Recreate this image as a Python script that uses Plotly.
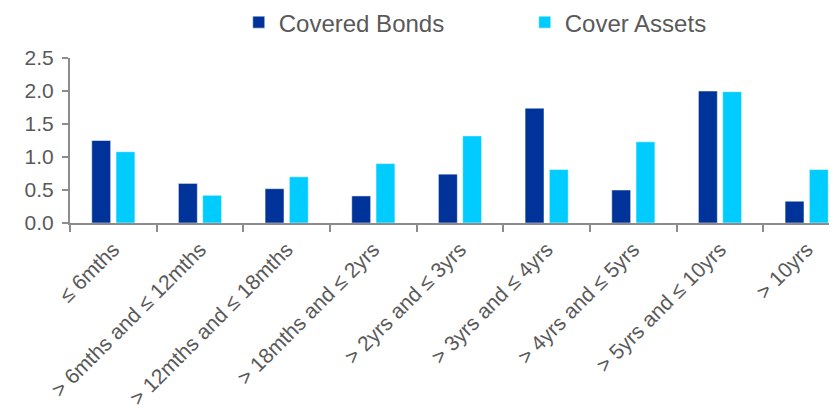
import plotly.graph_objects as go

categories = ["≤ 6mths", "> 6mths and ≤ 12mths", "> 12mths and ≤ 18mths",
              "> 18mths and ≤ 2yrs", "> 2yrs and ≤ 3yrs", "> 3yrs and ≤ 4yrs",
              "> 4yrs and ≤ 5yrs", "> 5yrs and ≤ 10yrs", "> 10yrs"]
covered_bonds = [1.25, 0.60, 0.52, 0.41, 0.74, 1.74, 0.50, 2.00, 0.33]
cover_assets = [1.08, 0.42, 0.70, 0.90, 1.32, 0.81, 1.23, 1.99, 0.81]
y_ticks = [0.0, 0.5, 1.0, 1.5, 2.0, 2.5]

FONT = "Liberation Sans"
TXT = "#595959"
AX = "#8c8c8c"

fig = go.Figure()
fig.add_trace(go.Bar(name="Covered Bonds", x=categories, y=covered_bonds,
                     marker=dict(color="#003399", line=dict(color="rgba(255,255,255,0.5)", width=1))))
fig.add_trace(go.Bar(name="Cover Assets", x=categories, y=cover_assets,
                     marker=dict(color="#00ccff", line=dict(color="rgba(255,255,255,0.5)", width=1))))

# the page body adds an 8px offset, so the figure is 8px smaller and margins shifted
fig.update_layout(
    width=829, height=404,
    margin=dict(l=62, r=0, t=50, b=189, autoexpand=False),
    paper_bgcolor="white", plot_bgcolor="white",
    barmode="group", bargap=0.44, bargroupgap=0.22,
    font=dict(family=FONT, color=TXT, size=20),
    legend=dict(orientation="h", x=0.22, xanchor="left", y=1.215, yanchor="middle",
                font=dict(size=24, color=TXT), entrywidth=241,
                itemwidth=30, traceorder="normal", bgcolor="rgba(0,0,0,0)"),
    showlegend=True,
)
fig.update_xaxes(range=[-0.5, 8.35], showline=True, linecolor=AX, linewidth=2,
                 ticks="outside", tickson="boundaries", ticklen=7, tickcolor=AX, tickwidth=2,
                 tickangle=-45, tickfont=dict(size=21, color=TXT), showgrid=False,
                 ticklabelstandoff=4, automargin=False)
fig.update_yaxes(range=[0, 2.5], tickvals=y_ticks, ticktext=[f"{v:.1f}" for v in y_ticks],
                 showline=True, linecolor=AX, linewidth=2, ticks="outside", ticklen=6,
                 tickcolor=AX, tickwidth=2, tickfont=dict(size=21, color=TXT),
                 ticklabelstandoff=4, showgrid=False, zeroline=False, automargin=False)

fig.write_html("out.html")
